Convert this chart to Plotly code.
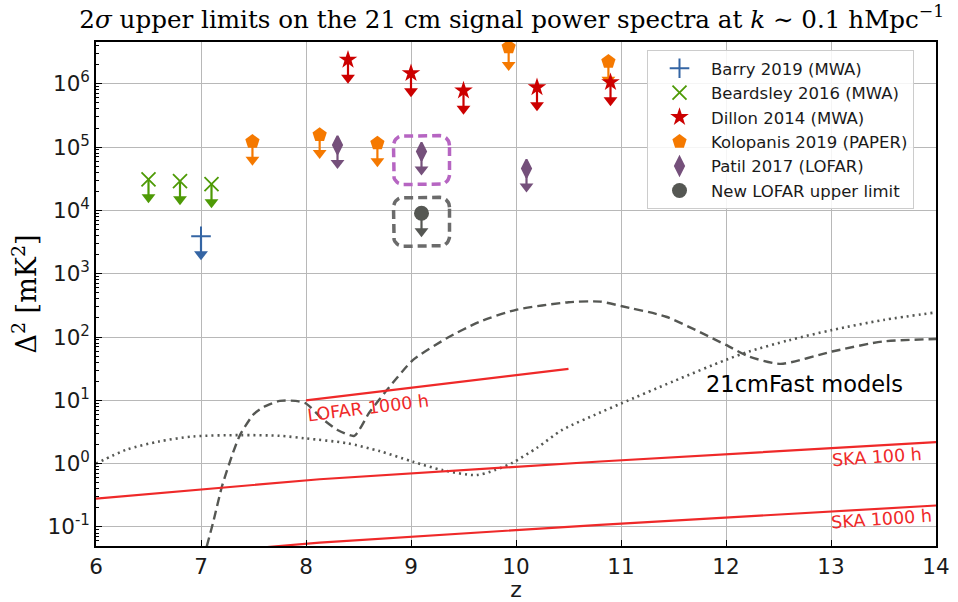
import numpy as np
import plotly.graph_objects as go

# ---------------------------------------------------------------------------
# Upper limits on Delta^2 [mK^2] at k ~ 0.1 h/Mpc, per redshift
# ---------------------------------------------------------------------------
barry_z = [7.0]
barry_d2 = [3.9e3]

beardsley_z = [6.5, 6.8, 7.1]
beardsley_d2 = [3.1e4, 2.9e4, 2.6e4]

dillon_z = [8.4, 9.0, 9.5, 10.2, 10.9]
dillon_d2 = [2.4e6, 1.47e6, 7.8e5, 8.8e5, 1.06e6]

kolopanis_z = [7.49, 8.13, 8.68, 9.93, 10.88]
kolopanis_d2 = [1.22e5, 1.56e5, 1.15e5, 3.8e6, 2.24e6]

patil_z = [8.3, 9.1, 10.1]
patil_d2 = [1.08e5, 8.5e4, 4.6e4]

lofar_new_z = [9.1]
lofar_new_d2 = [9.0e3]

# Thermal-noise sensitivities
lofar1000_z = [8.0, 10.5]
lofar1000_d2 = [10.0, 31.3]
ska100_z = [6.0, 8.13, 10.8, 14.0]
ska100_d2 = [0.28, 0.567, 1.08, 2.18]
ska1000_z = [6.0, 8.13, 10.8, 14.0]
ska1000_d2 = [0.028, 0.0567, 0.108, 0.218]

# 21cmFast model power spectra
model_a_z = [7.02, 7.12, 7.2, 7.3, 7.37, 7.5, 7.6, 7.75, 7.9, 8.0, 8.15, 8.3,
             8.46, 8.6, 8.77, 9.02, 9.34, 9.65, 10.0, 10.5, 10.8, 11.0, 11.43,
             12.0, 12.22, 12.52, 13.01, 13.49, 14.0]
model_a_d2 = [0.03, 0.126, 0.44, 1.41, 2.8, 6.0, 7.9, 9.8, 9.8, 8.9, 5.2, 3.4,
              2.75, 6.3, 14.5, 43.6, 95.5, 174, 269, 355, 363, 309, 209,
              75, 49, 37.6, 59, 85, 93]

model_b_z = [6.0, 6.29, 6.6, 6.93, 7.37, 7.75, 8.0, 8.39, 8.7, 9.02, 9.3, 9.62,
             9.8, 9.97, 10.2, 10.44, 10.79, 11.0, 11.5, 12.0, 12.22, 12.6,
             13.01, 13.5, 14.0]
model_b_d2 = [1.0, 1.66, 2.24, 2.69, 2.82, 2.75, 2.5, 2.1, 1.58, 1.07, 0.79, 0.66,
              0.79, 1.04, 1.78, 3.4, 6.3, 8.9, 20, 43.6, 59, 89,
              129, 186, 245]

# y-axis decades and their labels
y_decades = [-1, 0, 1, 2, 3, 4, 5, 6]
y_tick_text = ["10<sup>%d</sup>" % p if p >= 0 else "10<sup>-%d</sup>" % -p
               for p in y_decades]

# ---------------------------------------------------------------------------
# Layout geometry
# ---------------------------------------------------------------------------
W, H = 958, 602
M_L, M_R, M_T, M_B = 96, 22, 42, 56
X_RANGE = [6, 14]
Y_RANGE = [np.log10(0.05), 6.66]
PX_PER_X = (W - M_L - M_R) / (X_RANGE[1] - X_RANGE[0])
PX_PER_DEC = (H - M_T - M_B) / (Y_RANGE[1] - Y_RANGE[0])

ARROW_STEM = 0.6          # stem of the upper-limit arrow ends at 0.6 * value
ARROW_HEAD_PX = 10        # caret height in pixels
TRI_SIZE = 12

TEXT = "#1a1a1a"
RED_LINE = "#ef2929"
MODEL_GREY = "#555753"

fig = go.Figure()


def add_limits(name, z, d2, color, symbol, size, rank, line_w=0):
    z = np.asarray(z, float)
    d2 = np.asarray(d2, float)
    # caret centroid: plotly triangle-down tip sits 'size/2' below its centre
    tip_px = -np.log10(ARROW_STEM) * PX_PER_DEC + ARROW_HEAD_PX
    head = d2 * 10 ** (-(tip_px - TRI_SIZE / 2) / PX_PER_DEC)
    xs, ys = [], []
    for zi, a, b in zip(z, d2, head):
        xs += [zi, zi, None]
        ys += [a, b, None]
    fig.add_trace(go.Scatter(x=xs, y=ys, mode="lines", showlegend=False,
                             line=dict(color=color, width=2.2), hoverinfo="skip"))
    fig.add_trace(go.Scatter(x=z, y=head, mode="markers", showlegend=False,
                             marker=dict(symbol="triangle-down", size=TRI_SIZE,
                                         color=color, line=dict(width=0)),
                             hoverinfo="skip"))
    mk = dict(symbol=symbol, size=size, color=color)
    mk["line"] = dict(color=color, width=line_w)
    fig.add_trace(go.Scatter(x=z, y=d2, mode="markers", name=name,
                             legendrank=rank, marker=mk))


# model curves
fig.add_trace(go.Scatter(x=model_b_z, y=model_b_d2, mode="lines", showlegend=False,
                         line=dict(color=MODEL_GREY, width=2.6, dash="2px,4px",
                                   shape="spline", smoothing=0.8)))
fig.add_trace(go.Scatter(x=model_a_z, y=model_a_d2, mode="lines", showlegend=False,
                         line=dict(color=MODEL_GREY, width=2.4, dash="9px,5px",
                                   shape="spline", smoothing=0.6)))

# sensitivity lines
for zz, dd in [(lofar1000_z, lofar1000_d2), (ska100_z, ska100_d2), (ska1000_z, ska1000_d2)]:
    fig.add_trace(go.Scatter(x=zz, y=dd, mode="lines", showlegend=False,
                             line=dict(color=RED_LINE, width=2.2)))


# highlight boxes around the LOFAR points at z ~ 9.1
def rounded_box(z0, v0, color):
    half_w, up, down, r = 28, 16, 33, 10
    pts = []
    corners = [(half_w - r, up - r, 0), (-half_w + r, up - r, 90),
               (-half_w + r, -down + r, 180), (half_w - r, -down + r, 270)]
    for cx, cy, a0 in corners:
        for a in np.linspace(a0, a0 + 90, 10):
            t = np.radians(a)
            pts.append((cx + r * np.cos(t), cy + r * np.sin(t)))
    pts.append(pts[0])
    bx = [z0 + px / PX_PER_X for px, _ in pts]
    by = [v0 * 10 ** (py / PX_PER_DEC) for _, py in pts]
    fig.add_trace(go.Scatter(x=bx, y=by, mode="lines", showlegend=False,
                             hoverinfo="skip",
                             line=dict(color=color, width=3.5, dash="9px,5px")))


rounded_box(patil_z[1], patil_d2[1], "#b665c2")
rounded_box(lofar_new_z[0], lofar_new_d2[0], "#6b6b6b")

# upper limits (Kolopanis drawn below Dillon)
add_limits("Barry 2019 (MWA)", barry_z, barry_d2, "#3465a4", "cross-thin", 14, 1, line_w=2)
add_limits("Beardsley 2016 (MWA)", beardsley_z, beardsley_d2, "#4e9a06", "x-thin", 14, 2, line_w=1.8)
add_limits("Kolopanis 2019 (PAPER)", kolopanis_z, kolopanis_d2, "#f57900", "pentagon", 15, 4)
add_limits("Dillon 2014 (MWA)", dillon_z, dillon_d2, "#cc0000", "star", 14, 3)
add_limits("Patil 2017 (LOFAR)", patil_z, patil_d2, "#75507b", "diamond-tall", 13, 5, line_w=2)
add_limits("New LOFAR upper limit", lofar_new_z, lofar_new_d2, "#555753", "circle", 15, 6)

# labels
annotations = [
    dict(x=8.59, y=np.log10(7.6), text="LOFAR 1000 h", textangle=-7,
         font=dict(size=17.5, color=RED_LINE)),
    dict(x=13.44, y=np.log10(1.28), text="SKA 100 h", textangle=-4,
         font=dict(size=17.5, color=RED_LINE)),
    dict(x=13.48, y=np.log10(0.134), text="SKA 1000 h", textangle=-4,
         font=dict(size=17.5, color=RED_LINE)),
    dict(x=12.75, y=np.log10(18.2), text="21cmFast models",
         font=dict(size=22.5, color="black")),
]
for a in annotations:
    a.update(xref="x", yref="y", showarrow=False, xanchor="center", yanchor="middle",
             font=dict(a["font"], family="DejaVu Sans"))

axis_common = dict(
    showline=True, linecolor="black", linewidth=1.5, mirror=True,
    ticks="inside", ticklen=6, tickwidth=1, tickcolor="black",
    showgrid=True, gridcolor="#b8b8b8", gridwidth=1, zeroline=False,
    tickfont=dict(family="DejaVu Sans", size=21.5, color=TEXT),
)

minor_vals = [m * 10.0 ** p for p in range(-2, 7) for m in range(2, 10)]

fig.update_layout(
    width=W, height=H,
    margin=dict(l=M_L, r=M_R, t=M_T, b=M_B, autoexpand=False),
    paper_bgcolor="white", plot_bgcolor="white",
    title=dict(
        text="2<i>σ</i> upper limits on the 21 cm signal power spectra at "
             "<i>k</i> ∼ 0.1 hMpc<sup>−1</sup>",
        font=dict(family="DejaVu Serif", size=24.6, color="black"),
        x=0.495, xanchor="center", xref="paper",
        y=1 - 19 / H, yanchor="middle", yref="container",
    ),
    xaxis=dict(axis_common, range=X_RANGE, dtick=1,
               title=dict(text="z", standoff=4,
                          font=dict(family="DejaVu Sans", size=22, color=TEXT))),
    yaxis=dict(axis_common, type="log", range=Y_RANGE,
               tickmode="array", tickvals=[10.0 ** p for p in y_decades],
               ticktext=y_tick_text,
               minor=dict(tickmode="array", tickvals=minor_vals, ticks="inside",
                          ticklen=3.5, tickcolor="black", showgrid=False),
               title=dict(text="Δ<sup>2</sup> [mK<sup>2</sup>]", standoff=3,
                          font=dict(family="DejaVu Serif", size=27, color="black"))),
    legend=dict(
        x=(647 - M_L) / (W - M_L - M_R), y=(H - M_B - 50) / (H - M_T - M_B),
        xanchor="left", yanchor="top",
        bgcolor="rgba(255,255,255,0.85)", bordercolor="#cccccc", borderwidth=1,
        font=dict(family="DejaVu Sans", size=16.5, color=TEXT),
        itemsizing="trace", itemwidth=53, tracegroupgap=0,
    ),
    annotations=annotations,
    showlegend=True,
)

fig.write_html("out.html")
